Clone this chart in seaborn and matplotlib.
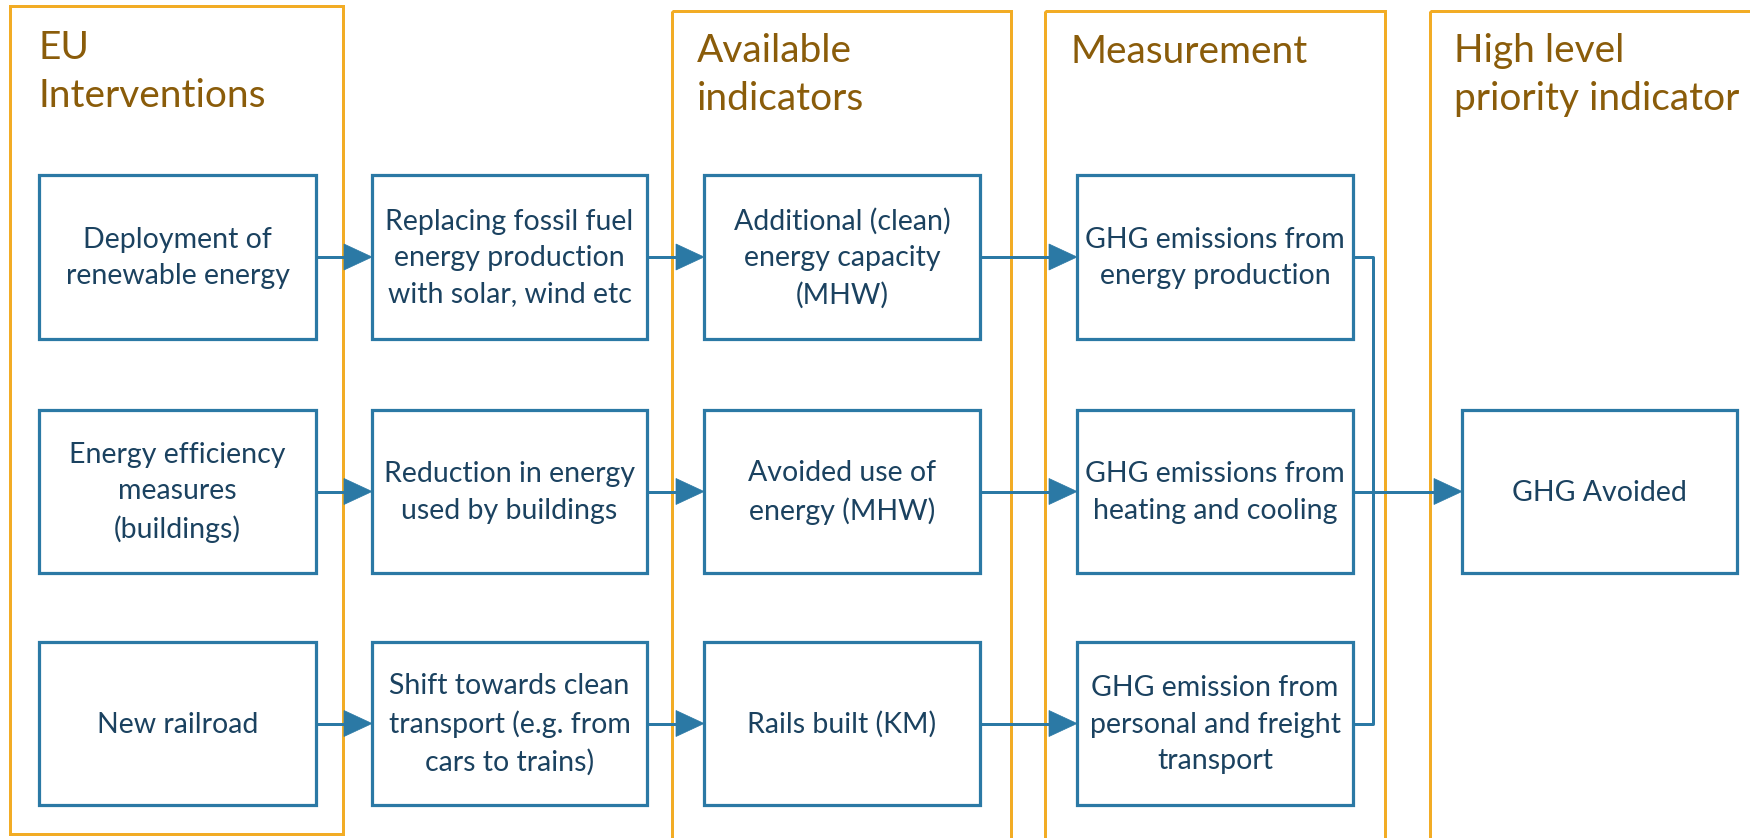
import matplotlib
matplotlib.use("Agg")
import matplotlib.pyplot as plt
from matplotlib.patches import Rectangle, Polygon
import seaborn as sns

# ---- data ----
column_titles = ["EU\nInterventions", "Available\nindicators", "Measurement",
                 "High level\npriority indicator"]
interventions = ["Deployment of\nrenewable energy",
                 "Energy efficiency\nmeasures\n(buildings)",
                 "New railroad"]
mechanisms = ["Replacing fossil fuel\nenergy production\nwith solar, wind etc",
              "Reduction in energy\nused by buildings",
              "Shift towards clean\ntransport (e.g. from\ncars to trains)"]
indicators = ["Additional (clean)\nenergy capacity\n(MHW)",
              "Avoided use of\nenergy (MHW)",
              "Rails built (KM)"]
measurements = ["GHG emissions from\nenergy production",
                "GHG emissions from\nheating and cooling",
                "GHG emission from\npersonal and freight\ntransport"]
priority = ["GHG Avoided"]

# ---- style ----
sns.set_theme(style="white")
plt.rcParams["font.family"] = ["Lato", "DejaVu Sans"]
ORANGE = "#F2AC25"
BLUE = "#2B79A5"
TEXT = "#1B4260"
HEAD = "#8A5C0A"
PX = 72 / 100  # points per pixel

fig = plt.figure(figsize=(17.5, 8.38), dpi=100)
ax = fig.add_axes([0, 0, 1, 1])
ax.set_xlim(0, 1750)
ax.set_ylim(838, 0)
ax.axis("off")

# column frames (x0, x1, top, bottom)
frames = [(10, 343, 6, 834), (672, 1011, 11, 845), (1045, 1385, 11, 845),
          (1430, 1800, 11, 845)]
# (x, baseline of last line)
title_pos = [(39, 107), (697, 110), (1070, 63), (1454, 110)]
for (x0, x1, t, b), title, (tx, ty) in zip(frames, column_titles, title_pos):
    ax.add_patch(Rectangle((x0, t), x1 - x0, b - t, fill=False,
                           edgecolor=ORANGE, lw=3 * PX, zorder=1))
    ax.text(tx, ty, title, ha="left", va="baseline", color=HEAD,
            fontsize=28, linespacing=1.42, zorder=3)

cols_x = [(39, 316), (372, 647), (704, 980), (1077, 1353), (1462, 1737)]
rows_y = [(175, 339), (410, 573), (642, 805)]


def box(x0, x1, y0, y1, label):
    ax.add_patch(Rectangle((x0, y0), x1 - x0, y1 - y0, facecolor="white",
                           edgecolor=BLUE, lw=3.2 * PX, zorder=4))
    ax.text((x0 + x1) / 2, (y0 + y1) / 2 + 1, label, ha="center",
            va="center", color=TEXT, fontsize=20.5, linespacing=1.5,
            zorder=5)


def arrow(xa, xb, y):
    ax.plot([xa, xb - 24], [y, y], color=BLUE, lw=3 * PX,
            solid_capstyle="butt", zorder=3)
    ax.add_patch(Polygon([(xb - 28, y - 13), (xb, y), (xb - 28, y + 13)],
                         closed=True, facecolor=BLUE, edgecolor=BLUE,
                         lw=0.5, zorder=3))


for ci, labels in enumerate([interventions, mechanisms, indicators,
                             measurements]):
    x0, x1 = cols_x[ci]
    for ri, lab in enumerate(labels):
        y0, y1 = rows_y[ri]
        box(x0, x1, y0, y1, lab)
        yc = (y0 + y1) / 2
        if ci < 3:
            arrow(x1, cols_x[ci + 1][0], yc)

# final column
x0, x1 = cols_x[4]
y0, y1 = rows_y[1]
box(x0, x1, y0, y1, priority[0])

# connectors from measurement to priority
xv = 1373
yc = [(a + b) / 2 for a, b in rows_y]
ax.plot([cols_x[3][1], xv, xv, cols_x[3][1]], [yc[0], yc[0], yc[2], yc[2]],
        color=BLUE, lw=3 * PX, zorder=3)
arrow(cols_x[3][1], cols_x[4][0], yc[1])

fig.savefig("out.png", dpi=100, facecolor="white")
